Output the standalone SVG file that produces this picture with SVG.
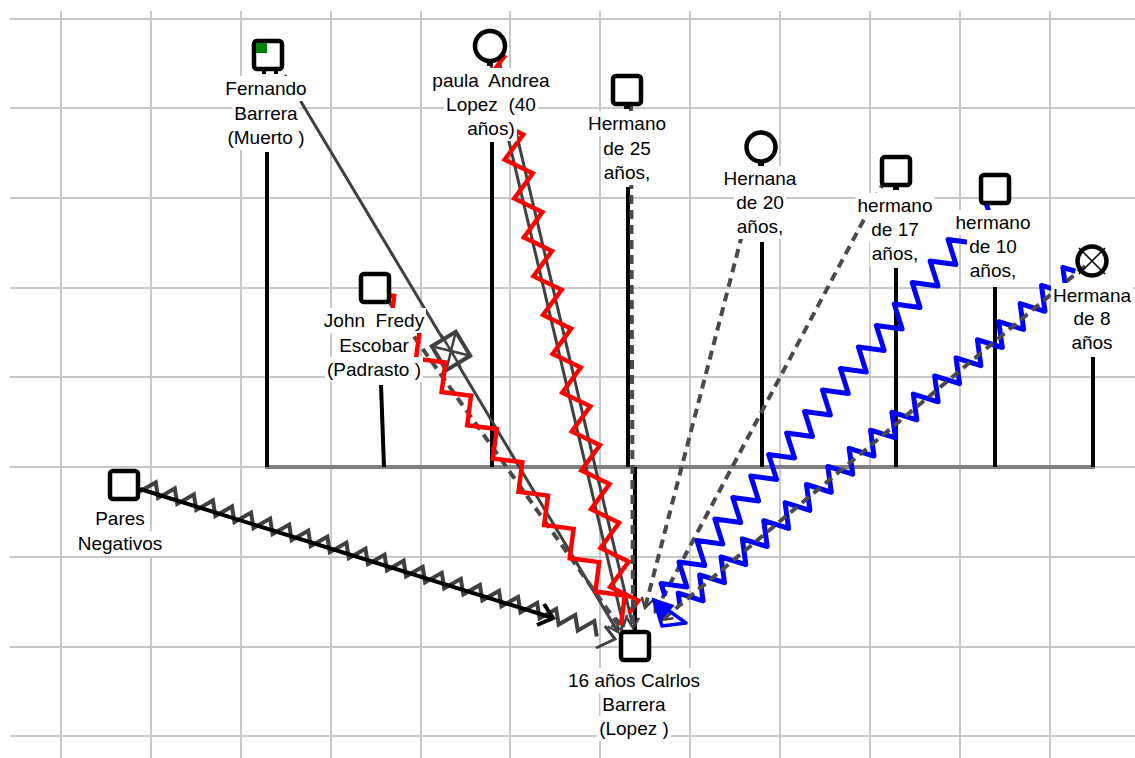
<svg xmlns="http://www.w3.org/2000/svg" width="1135" height="758" viewBox="0 0 1135 758">
<defs>
<style>
.g{stroke:#c8c8c8;stroke-width:2}
.n{fill:#fff;stroke:#000;stroke-width:4.5}
.v{stroke:#000;stroke-width:4;fill:none}
.t{font-family:"Liberation Sans",Arial,sans-serif;font-size:19px;text-anchor:middle;fill:#000;white-space:pre}
.bg{fill:#fff}
.dash{stroke:#4a4a4a;stroke-width:4;stroke-dasharray:9 6;fill:none}
.gl{stroke:#404040;stroke-width:3;fill:none}
.red{stroke:#ff0000;stroke-width:4.5;fill:none;stroke-linejoin:miter}
.blue{stroke:#0000ff;stroke-width:5;fill:none;stroke-linejoin:round}
</style>
<marker id="ag" markerUnits="userSpaceOnUse" markerWidth="14" markerHeight="14" refX="12" refY="7" orient="auto" viewBox="0 0 14 14">
<path d="M2,1 L12,7 L2,13" fill="none" stroke="#404040" stroke-width="2.5"/>
</marker>
</defs>
<rect width="1135" height="758" fill="#fff"/>
<g id="grid" class="g">
<line x1="10" y1="19" x2="1135" y2="19"/>
<line x1="10" y1="108" x2="1135" y2="108"/>
<line x1="10" y1="198" x2="1135" y2="198"/>
<line x1="10" y1="288" x2="1135" y2="288"/>
<line x1="10" y1="377" x2="1135" y2="377"/>
<line x1="10" y1="467" x2="1135" y2="467"/>
<line x1="10" y1="557" x2="1135" y2="557"/>
<line x1="10" y1="647" x2="1135" y2="647"/>
<line x1="10" y1="736" x2="1135" y2="736"/>
<line x1="61" y1="11" x2="61" y2="758"/>
<line x1="151" y1="11" x2="151" y2="758"/>
<line x1="241" y1="11" x2="241" y2="758"/>
<line x1="331" y1="11" x2="331" y2="758"/>
<line x1="421" y1="11" x2="421" y2="758"/>
<line x1="510" y1="11" x2="510" y2="758"/>
<line x1="600" y1="11" x2="600" y2="758"/>
<line x1="690" y1="11" x2="690" y2="758"/>
<line x1="780" y1="11" x2="780" y2="758"/>
<line x1="870" y1="11" x2="870" y2="758"/>
<line x1="960" y1="11" x2="960" y2="758"/>
<line x1="1050" y1="11" x2="1050" y2="758"/>
</g>
<g id="family">
<line x1="265" y1="467" x2="1095" y2="467" stroke="#808080" stroke-width="4"/>
<line class="v" x1="267" y1="152" x2="267" y2="467"/>
<line class="v" x1="381" y1="385" x2="384" y2="467"/>
<line class="v" x1="492" y1="142" x2="492" y2="467"/>
<line class="v" x1="628" y1="187" x2="628" y2="467"/>
<line class="v" x1="762" y1="242" x2="762" y2="467"/>
<line class="v" x1="896" y1="268" x2="896" y2="467"/>
<line class="v" x1="995" y1="287" x2="995" y2="467"/>
<line class="v" x1="1093" y1="357" x2="1093" y2="467"/>
<line class="v" x1="635" y1="467" x2="635" y2="632"/>
</g>
<g id="connectors">
<!-- Fernando -> Carlos -->
<line class="gl" x1="285" y1="75" x2="618" y2="632" marker-end="url(#ag)"/>
<g transform="translate(451,351) rotate(59)">
<rect x="-14" y="-14" width="28" height="28" fill="#fff" stroke="#404040" stroke-width="4"/>
<path d="M-14,-14 L14,14 M-14,14 L14,-14 M-19,0 L19,0" stroke="#404040" stroke-width="2.5"/>
</g>
<!-- paula -> Carlos -->
<line class="gl" x1="487.6" y1="51" x2="623.6" y2="626" marker-end="url(#ag)"/>
<line class="gl" x1="496.4" y1="49" x2="632.4" y2="624"/>
<path class="red" transform="translate(490,50) rotate(76.13)" d="M0,0 l10,-12 l20,24 l20,-24 l20,24 l20,-24 l20,24 l20,-24 l20,24 l20,-24 l20,24 l20,-24 l20,24 l20,-24 l20,24 l20,-24 l20,24 l20,-24 l20,24 l20,-24 l20,24 l20,-24 l20,24 l20,-24 l20,24 l20,-24 l20,24 l20,-24 l20,24 l20,-24 l10,12"/>
<!-- John -> Carlos -->
<line class="dash" x1="388" y1="300" x2="622" y2="630" marker-end="url(#ag)"/>
<path class="red" transform="translate(381,296) rotate(52.4)" d="M-13,10.5 l21,-21 l21,21 l21,-21 l21,21 l21,-21 l21,21 l21,-21 l21,21 l21,-21 l21,21 l21,-21 l21,21 l21,-21 l21,21 l21,-21 l21,21 l21,-21 l21,21 l21,-21 l21,21"/>
<!-- Hermano 25 -> Carlos -->
<line class="dash" x1="631" y1="105" x2="633" y2="628" marker-end="url(#ag)"/>
<!-- Hernana 20 -> Carlos -->
<line class="dash" x1="761" y1="162" x2="645" y2="608" marker-end="url(#ag)"/>
<!-- hermano 17 -> Carlos -->
<line class="dash" x1="885" y1="180" x2="655" y2="612" marker-end="url(#ag)"/>
<!-- hermano 10 -> Carlos -->
<path class="blue" transform="translate(665,596) rotate(-50.16)" d="M0,0 l7,-11 l14,22 l14,-22 l14,22 l14,-22 l14,22 l14,-22 l14,22 l14,-22 l14,22 l14,-22 l14,22 l14,-22 l14,22 l14,-22 l14,22 l14,-22 l14,22 l14,-22 l14,22 l14,-22 l14,22 l14,-22 l14,22 l14,-22 l14,22 l14,-22 l14,22 l14,-22 l14,22 l14,-22 l14,22 l14,-22 l14,22 l14,-22 l14,22 l14,-22 l7,11"/>
<!-- Hermana 8 -> Carlos -->
<path class="blue" transform="translate(680,606) rotate(-40.26)" d="M0,0 l7,-11 l14,22 l14,-22 l14,22 l14,-22 l14,22 l14,-22 l14,22 l14,-22 l14,22 l14,-22 l14,22 l14,-22 l14,22 l14,-22 l14,22 l14,-22 l14,22 l14,-22 l14,22 l14,-22 l14,22 l14,-22 l14,22 l14,-22 l14,22 l14,-22 l14,22 l14,-22 l14,22 l14,-22 l14,22 l14,-22 l14,22 l14,-22 l14,22 l14,-22 l7,11"/>
<line class="dash" x1="1085" y1="266" x2="662" y2="620" marker-end="url(#ag)"/>
<path d="M654,600 L672,606 L661,618 Z" fill="#0000ff" stroke="#0000ff" stroke-width="3"/>
<path d="M654,600 L686,623 L662,626 Z" fill="none" stroke="#0000ff" stroke-width="3.5" stroke-linejoin="round"/>
<!-- Pares Negativos -> Carlos -->
<path transform="translate(140,489) rotate(17.54)" fill="none" stroke="#404040" stroke-width="4" d="M0,3 l13,-14 l7,14 l13,-14 l7,14 l13,-14 l7,14 l13,-14 l7,14 l13,-14 l7,14 l13,-14 l7,14 l13,-14 l7,14 l13,-14 l7,14 l13,-14 l7,14 l13,-14 l7,14 l13,-14 l7,14 l13,-14 l7,14 l13,-14 l7,14 l13,-14 l7,14 l13,-14 l7,14 l13,-14 l7,14 l13,-14 l7,14 l13,-14 l7,14 l13,-14 l7,14 l13,-14 l7,14 l13,-14 l7,14 l13,-14 l7,14 l13,-14 l7,14 l13,-14 l7,14"/>
<path class="gl" d="M605,626 L615,639 L596,648" stroke-width="3.5"/>
<line x1="140" y1="489" x2="553" y2="618" stroke="#000" stroke-width="4"/>
<path d="M544,604 L553,618 L537,625" fill="none" stroke="#000" stroke-width="4"/>
</g>
<g id="labels">
<rect class="bg" x="223.5" y="76" width="85" height="25"/><rect class="bg" x="232.5" y="101" width="67" height="25"/><rect class="bg" x="225.5" y="125" width="81" height="25"/>
<text class="t" x="266" y="95">Fernando</text><text class="t" x="266" y="120">Barrera</text><text class="t" x="266" y="144">(Muerto )</text>
<rect class="bg" x="430" y="68" width="122" height="25"/><rect class="bg" x="444" y="92" width="94" height="25"/><rect class="bg" x="465" y="116" width="52" height="25"/>
<text class="t" x="491" y="87" xml:space="preserve">paula  Andrea</text><text class="t" x="491" y="111" xml:space="preserve">Lopez  (40</text><text class="t" x="491" y="135">años)</text>
<rect class="bg" x="586" y="111" width="82" height="25"/><rect class="bg" x="601" y="136" width="52" height="25"/><rect class="bg" x="602" y="160" width="50" height="25"/>
<text class="t" x="627" y="130">Hermano</text><text class="t" x="627" y="155">de 25</text><text class="t" x="627" y="179">años,</text>
<rect class="bg" x="721.5" y="166" width="77" height="25"/><rect class="bg" x="734" y="190" width="52" height="25"/><rect class="bg" x="735" y="214" width="50" height="25"/>
<text class="t" x="760" y="185">Hernana</text><text class="t" x="760" y="209">de 20</text><text class="t" x="760" y="233">años,</text>
<rect class="bg" x="855.5" y="193" width="79" height="25"/><rect class="bg" x="869" y="217" width="52" height="25"/><rect class="bg" x="870" y="241" width="50" height="25"/>
<text class="t" x="895" y="212">hermano</text><text class="t" x="895" y="236">de 17</text><text class="t" x="895" y="260">años,</text>
<rect class="bg" x="953.5" y="210" width="79" height="25"/><rect class="bg" x="967" y="234" width="52" height="25"/><rect class="bg" x="968" y="258" width="50" height="25"/>
<text class="t" x="993" y="229">hermano</text><text class="t" x="993" y="253">de 10</text><text class="t" x="993" y="277">años,</text>
<rect class="bg" x="1051" y="283" width="82" height="25"/><rect class="bg" x="1071.5" y="306" width="41" height="25"/><rect class="bg" x="1069.5" y="330" width="45" height="25"/>
<text class="t" x="1092" y="302">Hermana</text><text class="t" x="1092" y="325">de 8</text><text class="t" x="1092" y="349">años</text>
<rect class="bg" x="322" y="308" width="104" height="25"/><rect class="bg" x="337" y="333" width="74" height="25"/><rect class="bg" x="325" y="357" width="98" height="25"/>
<text class="t" x="374" y="327" xml:space="preserve">John  Fredy</text><text class="t" x="374" y="352">Escobar</text><text class="t" x="374" y="376">(Padrasto )</text>
<rect class="bg" x="93" y="506" width="54" height="25"/><rect class="bg" x="76" y="531" width="88" height="25"/>
<text class="t" x="120" y="525">Pares</text><text class="t" x="120" y="550">Negativos</text>
<rect class="bg" x="566" y="668" width="136" height="25"/><rect class="bg" x="600.5" y="692" width="67" height="25"/><rect class="bg" x="597" y="716" width="74" height="25"/>
<text class="t" x="634" y="687">16 años Calrlos</text><text class="t" x="634" y="711">Barrera</text><text class="t" x="634" y="735">(Lopez )</text>
</g>
<g id="node-fernando">
<rect class="n" x="254" y="41" width="28" height="28" rx="3"/>
<rect x="256" y="43" width="11" height="10" fill="#008000"/>
<rect x="262" y="71" width="4" height="3"/><rect x="274" y="71" width="4" height="3"/>
</g>
<g id="node-paula">
<circle class="n" cx="490" cy="46" r="15"/>
<rect x="487" y="63" width="6" height="3"/>
</g>
<g id="node-hermano25">
<rect class="n" x="613" y="76" width="28" height="28" rx="3"/>
<rect x="624" y="106" width="6" height="3"/>
</g>
<g id="node-hernana20">
<circle class="n" cx="761" cy="147" r="14.5"/>
<rect x="758" y="163" width="6" height="3"/>
</g>
<g id="node-hermano17">
<rect class="n" x="882" y="157" width="28" height="28" rx="3"/>
<rect x="893" y="187" width="6" height="3"/>
</g>
<g id="node-hermano10">
<rect class="n" x="981" y="175" width="28" height="28" rx="3"/>
</g>
<g id="node-hermana8">
<path d="M1079,248 L1105,274 M1079,274 L1105,248" stroke="#000" stroke-width="1.5"/>
<circle cx="1092" cy="261" r="14.5" fill="none" stroke="#000" stroke-width="4.5"/>
</g>
<g id="node-john">
<rect class="n" x="361" y="274" width="28" height="28" rx="3"/>
</g>
<g id="node-pares">
<rect class="n" x="110" y="471" width="28" height="28" rx="3"/>
</g>
<g id="node-carlos">
<rect class="n" x="621" y="632" width="28" height="28" rx="3"/>
</g>
</svg>
